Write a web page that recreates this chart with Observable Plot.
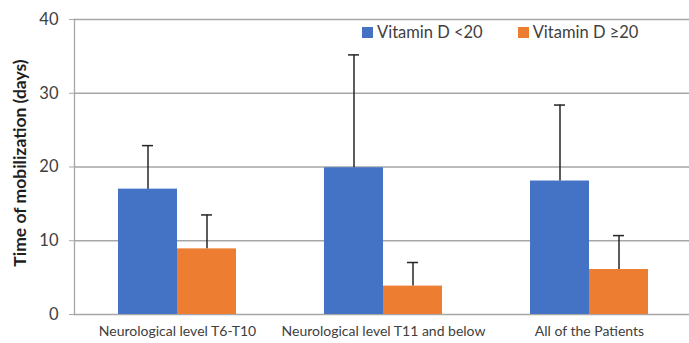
<!DOCTYPE html>
<html>
<head>
<meta charset="utf-8">
<script src="https://cdn.jsdelivr.net/npm/d3@7"></script>
<script src="https://cdn.jsdelivr.net/npm/@observablehq/plot@0.6"></script>
<style>
  html, body { margin: 0; padding: 0; background: #fff; }
  #wrap { position: relative; width: 689px; height: 343px; font-family: Lato, "Open Sans", sans-serif; }
  #legend { position: absolute; top: 22px; left: 362px; display: flex; gap: 35px; font-size: 16.5px; color: #404040; }
  #legend .item { display: flex; align-items: center; }
  #legend .sw { width: 11px; height: 11px; margin-right: 4px; display: inline-block; }
</style>
</head>
<body>
<div id="wrap">
  <div id="legend"></div>
</div>
<script>
const groups = ["Neurological level T6-T10", "Neurological level T11 and below", "All of the Patients"];
const series = ["Vitamin D <20", "Vitamin D \u226520"];
const colors = ["#4472C4", "#ED7D31"];
const meanLow = [17.0, 19.9, 18.1];
const sdLow = [5.9, 15.3, 10.3];
const meanHigh = [8.9, 3.85, 6.1];
const sdHigh = [4.6, 3.2, 4.6];
const yTicks = [0, 10, 20, 30, 40];
const yTitle = "Time of mobilization (days)";

const low = groups.map((g, i) => ({group: g, mean: meanLow[i], upper: meanLow[i] + sdLow[i]}));
const high = groups.map((g, i) => ({group: g, mean: meanHigh[i], upper: meanHigh[i] + sdHigh[i]}));

const errColor = "#262626";
const grid = "#a6a6a6";

const chart = Plot.plot({
  width: 689,
  height: 343,
  marginTop: 19,
  marginBottom: 29,
  marginLeft: 74,
  marginRight: 0,
  style: {fontFamily: "Lato, 'Open Sans', sans-serif", color: "#404040", background: "transparent"},
  x: {type: "band", domain: groups, range: [74, 692], paddingInner: 0.427, paddingOuter: 0.2135},
  y: {domain: [0, 40]},
  marks: [
    Plot.ruleY(yTicks, {stroke: grid, strokeWidth: 1.3}),
    Plot.frame({anchor: "left", stroke: grid, strokeWidth: 1.3}),
    Plot.barY(low, {x: "group", y: "mean", fill: colors[0], insetRight: 59}),
    Plot.barY(high, {x: "group", y: "mean", fill: colors[1], insetLeft: 59}),
    Plot.ruleX(low, {x: "group", y1: "mean", y2: "upper", stroke: errColor, strokeWidth: 1.5, dx: -29.5}),
    Plot.ruleX(high, {x: "group", y1: "mean", y2: "upper", stroke: errColor, strokeWidth: 1.5, dx: 29.5}),
    Plot.tickY(low, {x: "group", y: "upper", stroke: errColor, strokeWidth: 1.5, insetLeft: 24, insetRight: 83}),
    Plot.tickY(high, {x: "group", y: "upper", stroke: errColor, strokeWidth: 1.5, insetLeft: 83, insetRight: 24}),
    Plot.axisY({ticks: yTicks, tickSize: 5, tickPadding: 11, stroke: grid, fontSize: 16.5, label: null}),
    Plot.axisX({tickSize: 0, tickPadding: 12, fontSize: 14, label: null}),
    Plot.text([yTitle], {frameAnchor: "left", textAnchor: "middle", dx: -54, dy: -4, rotate: -90, fontWeight: "bold", fontSize: 17.5, fill: "#1f1f1f"})
  ]
});
document.getElementById("wrap").prepend(chart);

const legend = document.getElementById("legend");
series.forEach((s, i) => {
  const item = document.createElement("div");
  item.className = "item";
  const sw = document.createElement("span");
  sw.className = "sw";
  sw.style.background = colors[i];
  const t = document.createElement("span");
  t.textContent = s;
  item.append(sw, t);
  legend.append(item);
});
</script>
</body>
</html>
